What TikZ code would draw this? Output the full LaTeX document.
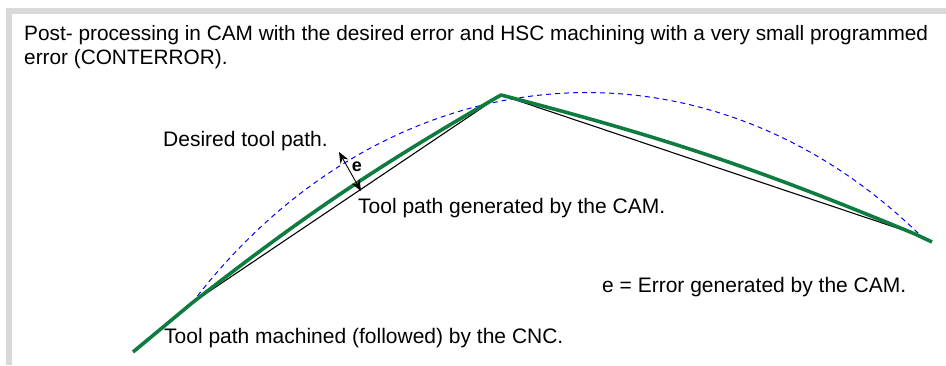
\documentclass[tikz,border=0pt]{standalone}
\usepackage{fontspec}
\setmainfont{Liberation Sans}
\usetikzlibrary{arrows.meta}
\definecolor{framegray}{RGB}{217,217,217}
\definecolor{pathgreen}{RGB}{14,124,62}
\begin{document}
\begin{tikzpicture}[x=1pt,y=-1pt,
  lbl/.style={inner sep=0pt,anchor=base west,font=\fontsize{21}{24}\selectfont},
  hdr/.style={inner sep=0pt,anchor=base west,font=\fontsize{20.8}{24}\selectfont},
  green path/.style={draw=pathgreen,line width=3.6pt,line join=round},
  cam path/.style={draw=black,line width=1.1pt},
  desired/.style={draw=blue,line width=1pt,dash pattern=on 5pt off 4pt},
  err/.style={draw=black,line width=0.9pt,{Stealth[length=11pt,width=9pt]}-{Stealth[length=11pt,width=9pt]}}]
\useasboundingbox (0,0) rectangle (946,365);
\fill[framegray] (6,8) rectangle (946,14);
\fill[framegray] (6,8) rectangle (12,365);
% coordinates
\coordinate (g0) at (133,352);
\coordinate (p0) at (192,303);
\coordinate (pk) at (501,95);
\coordinate (p2) at (915,234);
\coordinate (g3) at (932,242);
\coordinate (eA) at (361,191);
\coordinate (eB) at (339,152);
% desired path
\draw[desired] (p0) .. controls (386,49) and (705,22) .. (923,238);
% CAM path
\draw[cam path] (p0) -- (pk) -- (p2);
% machined path
\draw[green path] (g0) -- (p0) to[bend left=4] (pk) to[bend left=4] (p2) -- (g3);
% error arrow
\draw[err] (eA) -- (eB);
\node[inner sep=0pt,anchor=base,font=\bfseries\fontsize{18}{20}\selectfont] (e) at (357,171) {e};
% texts
\node[hdr] (title1) at (24,40) {Post- processing in CAM with the desired error and HSC machining with a very small programmed};
\node[hdr] (title2) at (24,64) {error (CONTERROR).};
\node[lbl] (desl) at (163,146) {Desired tool path.};
\node[lbl] (caml) at (358,213) {Tool path generated by the CAM.};
\node[lbl] (errl) at (602,292) {e = Error generated by the CAM.};
\node[lbl] (cncl) at (164,343) {Tool path machined (followed) by the CNC.};
\end{tikzpicture}
\end{document}
